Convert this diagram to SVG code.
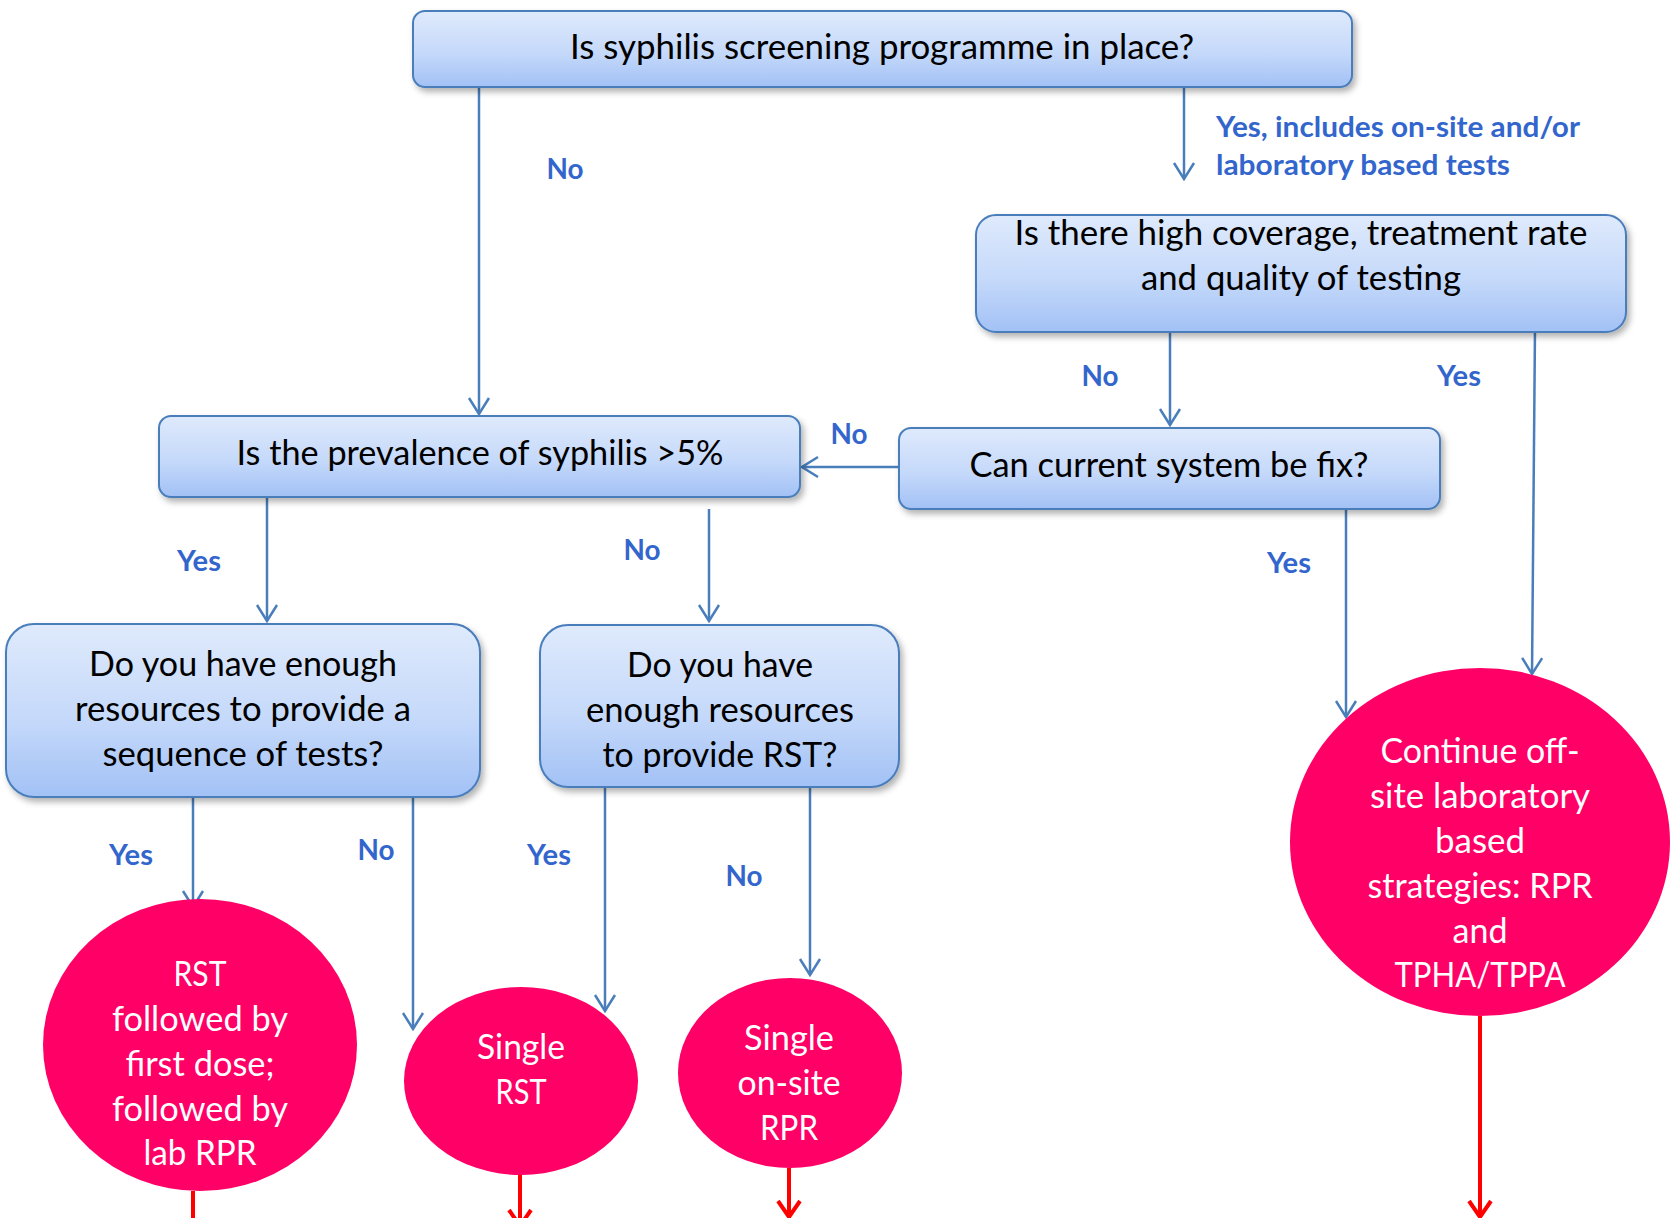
<svg xmlns="http://www.w3.org/2000/svg" width="1672" height="1218" viewBox="0 0 1672 1218">
<defs>
<linearGradient id="boxGrad" x1="0" y1="0" x2="0" y2="1">
<stop offset="0" stop-color="#DFEAFC"/>
<stop offset="0.55" stop-color="#C5D9FA"/>
<stop offset="1" stop-color="#A2C1F5"/>
</linearGradient>
<filter id="shadow" x="-5%" y="-10%" width="115%" height="135%">
<feDropShadow dx="3" dy="4" stdDeviation="3" flood-color="#000" flood-opacity="0.3"/>
</filter>
<marker id="arrowBlue" markerUnits="userSpaceOnUse" viewBox="0 0 20 24" refX="18" refY="12" markerWidth="20" markerHeight="24" orient="auto">
<path d="M2,2 L18,12 L2,22" fill="none" stroke="#4A7EBB" stroke-width="2.5"/>
</marker>
<marker id="arrowRed" markerUnits="userSpaceOnUse" viewBox="0 0 24 26" refX="22" refY="13" markerWidth="24" markerHeight="26" orient="auto">
<path d="M6,2 L22,13 L6,24" fill="none" stroke="#FF0000" stroke-width="4"/>
</marker>
</defs>
<style>
.box { fill:url(#boxGrad); stroke:#4A7EBB; stroke-width:2; filter:url(#shadow); }
.bt { font-family: Lato, "Liberation Sans", sans-serif; font-size:34px; fill:#000; text-anchor:middle; }
.end { fill:#FF0066; }
.et { font-family: Lato, "Liberation Sans", sans-serif; font-size:35px; fill:#fff; text-anchor:middle; }
.lbl { font-family: Lato, "Liberation Sans", sans-serif; font-weight:bold; font-size:29px; fill:#3366CC; }
.conn { stroke:#4A7EBB; stroke-width:2.5; fill:none; marker-end:url(#arrowBlue); }
.red { stroke:#FF0000; stroke-width:4; fill:none; marker-end:url(#arrowRed); }
</style>
<rect width="1672" height="1218" fill="#fff"/>

<g id="connectors">
<line class="conn" x1="479" y1="87" x2="479" y2="414"/>
<line class="conn" x1="1184" y1="87" x2="1184" y2="179"/>
<line class="conn" x1="1170" y1="332" x2="1170" y2="425"/>
<line class="conn" x1="1535" y1="328" x2="1532" y2="674"/>
<line class="conn" x1="899" y1="467" x2="802" y2="467"/>
<line class="conn" x1="1346" y1="509" x2="1346" y2="717"/>
<line class="conn" x1="267" y1="497" x2="267" y2="621"/>
<line class="conn" x1="709" y1="509" x2="709" y2="621"/>
<line class="conn" x1="193" y1="797" x2="193" y2="907"/>
<line class="conn" x1="413" y1="797" x2="413" y2="1029"/>
<line class="conn" x1="605" y1="787" x2="605" y2="1011"/>
<line class="conn" x1="810" y1="787" x2="810" y2="975"/>
<line class="red" x1="193" y1="1191" x2="193" y2="1240"/>
<line class="red" x1="520" y1="1174" x2="520" y2="1226"/>
<line class="red" x1="789" y1="1168" x2="789" y2="1217"/>
<line class="red" x1="1480" y1="1016" x2="1480" y2="1217"/>
<text class="lbl" x="565" y="179" text-anchor="middle" textLength="37" lengthAdjust="spacingAndGlyphs">No</text>
<text class="lbl" x="1216" y="137" textLength="364" lengthAdjust="spacingAndGlyphs">Yes, includes on-site and/or</text>
<text class="lbl" x="1216" y="175" textLength="294" lengthAdjust="spacingAndGlyphs">laboratory based tests</text>
<text class="lbl" x="1100" y="386" text-anchor="middle" textLength="37" lengthAdjust="spacingAndGlyphs">No</text>
<text class="lbl" x="1459" y="386" text-anchor="middle" textLength="44" lengthAdjust="spacingAndGlyphs">Yes</text>
<text class="lbl" x="849" y="444" text-anchor="middle" textLength="37" lengthAdjust="spacingAndGlyphs">No</text>
<text class="lbl" x="199" y="571" text-anchor="middle" textLength="44" lengthAdjust="spacingAndGlyphs">Yes</text>
<text class="lbl" x="642" y="560" text-anchor="middle" textLength="37" lengthAdjust="spacingAndGlyphs">No</text>
<text class="lbl" x="1289" y="573" text-anchor="middle" textLength="44" lengthAdjust="spacingAndGlyphs">Yes</text>
<text class="lbl" x="131" y="865" text-anchor="middle" textLength="44" lengthAdjust="spacingAndGlyphs">Yes</text>
<text class="lbl" x="376" y="860" text-anchor="middle" textLength="37" lengthAdjust="spacingAndGlyphs">No</text>
<text class="lbl" x="549" y="865" text-anchor="middle" textLength="44" lengthAdjust="spacingAndGlyphs">Yes</text>
<text class="lbl" x="744" y="886" text-anchor="middle" textLength="37" lengthAdjust="spacingAndGlyphs">No</text>
</g>

<g id="q-screening">
<rect class="box" x="413" y="11" width="939" height="76" rx="12"/>
<text class="bt" x="882" y="59" textLength="624" lengthAdjust="spacingAndGlyphs">Is syphilis screening programme in place?</text>
</g>

<g id="q-coverage">
<rect class="box" x="976" y="215" width="650" height="117" rx="20"/>
<text class="bt" x="1301" y="245" textLength="573" lengthAdjust="spacingAndGlyphs">Is there high coverage, treatment rate</text>
<text class="bt" x="1301" y="290" textLength="320" lengthAdjust="spacingAndGlyphs">and quality of testing</text>
</g>

<g id="q-fix">
<rect class="box" x="899" y="428" width="541" height="81" rx="12"/>
<text class="bt" x="1169" y="477" textLength="399" lengthAdjust="spacingAndGlyphs">Can current system be fix?</text>
</g>

<g id="q-prevalence">
<rect class="box" x="159" y="416" width="641" height="81" rx="12"/>
<text class="bt" x="480" y="465" textLength="487" lengthAdjust="spacingAndGlyphs">Is the prevalence of syphilis &gt;5%</text>
</g>

<g id="q-sequence">
<rect class="box" x="6" y="624" width="474" height="173" rx="28"/>
<text class="bt" x="243" y="676" textLength="308" lengthAdjust="spacingAndGlyphs">Do you have enough</text>
<text class="bt" x="243" y="721" textLength="336" lengthAdjust="spacingAndGlyphs">resources to provide a</text>
<text class="bt" x="243" y="766" textLength="281" lengthAdjust="spacingAndGlyphs">sequence of tests?</text>
</g>

<g id="q-rst">
<rect class="box" x="540" y="625" width="359" height="162" rx="28"/>
<text class="bt" x="720" y="677" textLength="186" lengthAdjust="spacingAndGlyphs">Do you have</text>
<text class="bt" x="720" y="722" textLength="268" lengthAdjust="spacingAndGlyphs">enough resources</text>
<text class="bt" x="720" y="767" textLength="235" lengthAdjust="spacingAndGlyphs">to provide RST?</text>
</g>

<g id="r-sequence">
<ellipse class="end" cx="200" cy="1045" rx="157" ry="146"/>
<text class="et" x="200" y="986" textLength="53" lengthAdjust="spacingAndGlyphs">RST</text>
<text class="et" x="200" y="1031" textLength="176" lengthAdjust="spacingAndGlyphs">followed by</text>
<text class="et" x="200" y="1076" textLength="149" lengthAdjust="spacingAndGlyphs">first dose;</text>
<text class="et" x="200" y="1121" textLength="176" lengthAdjust="spacingAndGlyphs">followed by</text>
<text class="et" x="200" y="1165" textLength="113" lengthAdjust="spacingAndGlyphs">lab RPR</text>
</g>

<g id="r-single-rst">
<ellipse class="end" cx="521" cy="1081" rx="117" ry="94"/>
<text class="et" x="521" y="1059" textLength="88" lengthAdjust="spacingAndGlyphs">Single</text>
<text class="et" x="521" y="1104" textLength="51" lengthAdjust="spacingAndGlyphs">RST</text>
</g>

<g id="r-single-rpr">
<ellipse class="end" cx="790" cy="1073" rx="112" ry="95"/>
<text class="et" x="789" y="1050" textLength="90" lengthAdjust="spacingAndGlyphs">Single</text>
<text class="et" x="789" y="1095" textLength="103" lengthAdjust="spacingAndGlyphs">on-site</text>
<text class="et" x="789" y="1140" textLength="58" lengthAdjust="spacingAndGlyphs">RPR</text>
</g>

<g id="r-offsite">
<ellipse class="end" cx="1480" cy="842" rx="190" ry="174"/>
<text class="et" x="1480" y="763" textLength="199" lengthAdjust="spacingAndGlyphs">Continue off-</text>
<text class="et" x="1480" y="808" textLength="220" lengthAdjust="spacingAndGlyphs">site laboratory</text>
<text class="et" x="1480" y="853" textLength="90" lengthAdjust="spacingAndGlyphs">based</text>
<text class="et" x="1480" y="898" textLength="225" lengthAdjust="spacingAndGlyphs">strategies: RPR</text>
<text class="et" x="1480" y="943" textLength="55" lengthAdjust="spacingAndGlyphs">and</text>
<text class="et" x="1480" y="987" textLength="171" lengthAdjust="spacingAndGlyphs">TPHA/TPPA</text>
</g>
</svg>
